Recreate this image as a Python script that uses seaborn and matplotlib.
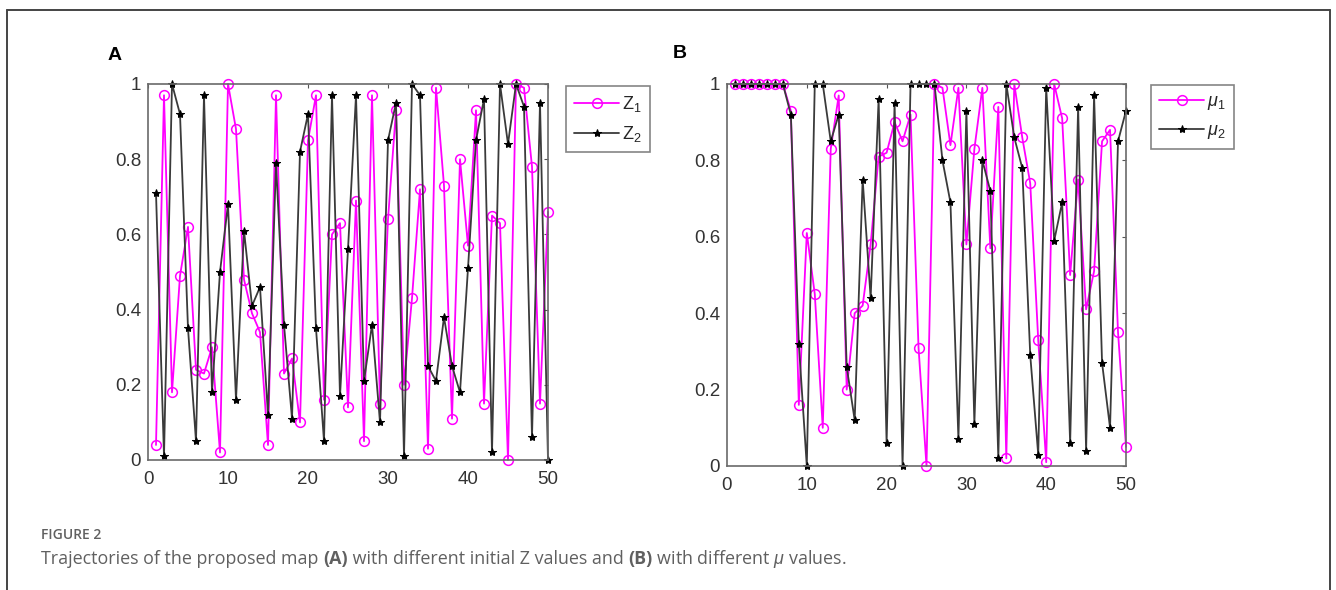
import numpy as np
import seaborn as sns
import matplotlib.pyplot as plt
from matplotlib.lines import Line2D

# iterations
steps = list(range(1, 51))

# panel A: different initial Z values
z1 = [0.04, 0.97, 0.18, 0.49, 0.62, 0.24, 0.23, 0.30, 0.02, 1.00,
      0.88, 0.48, 0.39, 0.34, 0.04, 0.97, 0.23, 0.27, 0.10, 0.85,
      0.97, 0.16, 0.60, 0.63, 0.14, 0.69, 0.05, 0.97, 0.15, 0.64,
      0.93, 0.20, 0.43, 0.72, 0.03, 0.99, 0.73, 0.11, 0.80, 0.57,
      0.93, 0.15, 0.65, 0.63, 0.00, 1.00, 0.99, 0.78, 0.15, 0.66]
z2 = [0.71, 0.01, 1.00, 0.92, 0.35, 0.05, 0.97, 0.18, 0.50, 0.68,
      0.16, 0.61, 0.41, 0.46, 0.12, 0.79, 0.36, 0.11, 0.82, 0.92,
      0.35, 0.05, 0.97, 0.17, 0.56, 0.97, 0.21, 0.36, 0.10, 0.85,
      0.95, 0.01, 1.00, 0.97, 0.25, 0.21, 0.38, 0.25, 0.18, 0.51,
      0.85, 0.96, 0.02, 1.00, 0.84, 1.00, 0.94, 0.06, 0.95, 0.00]

# panel B: different mu values
mu1 = [1.00, 1.00, 1.00, 1.00, 1.00, 1.00, 1.00, 0.93, 0.16, 0.61,
       0.45, 0.10, 0.83, 0.97, 0.20, 0.40, 0.42, 0.58, 0.81, 0.82,
       0.90, 0.85, 0.92, 0.31, 0.00, 1.00, 0.99, 0.84, 0.99, 0.58,
       0.83, 0.99, 0.57, 0.94, 0.02, 1.00, 0.86, 0.74, 0.33, 0.01,
       1.00, 0.91, 0.50, 0.75, 0.41, 0.51, 0.85, 0.88, 0.35, 0.05]
mu2 = [1.00, 1.00, 1.00, 1.00, 1.00, 1.00, 1.00, 0.92, 0.32, 0.00,
       1.00, 1.00, 0.85, 0.92, 0.26, 0.12, 0.75, 0.44, 0.96, 0.06,
       0.95, 0.00, 1.00, 1.00, 1.00, 1.00, 0.80, 0.69, 0.07, 0.93,
       0.11, 0.80, 0.72, 0.02, 1.00, 0.86, 0.78, 0.29, 0.03, 0.99,
       0.59, 0.69, 0.06, 0.94, 0.04, 0.97, 0.27, 0.10, 0.85, 0.93]

x_ticks = [0, 10, 20, 30, 40, 50]
y_ticks = [0, 0.2, 0.4, 0.6, 0.8, 1]
y_tick_labels = ["0", "0.2", "0.4", "0.6", "0.8", "1"]

panels = [
    ("A", z1, z2, ["Z$_1$", "Z$_2$"]),
    ("B", mu1, mu2, [r"$\mu_1$", r"$\mu_2$"]),
]

sns.set_style("white")
plt.rcParams["font.family"] = ["Liberation Sans", "DejaVu Sans"]
plt.rcParams["mathtext.fontset"] = "custom"
plt.rcParams["mathtext.rm"] = "Liberation Sans"
plt.rcParams["mathtext.it"] = "Liberation Sans:italic"

W, H = 1336, 590
fig = plt.figure(figsize=(W / 100, H / 100), dpi=100)

# pixel boxes: left, top, right, bottom
ax_boxes = [(148, 84, 548, 460), (727, 84, 1126, 466)]
legend_pos = [(566, 86), (1151, 85)]
letter_pos = [(108, 55), (673, 53)]

magenta = "#ff00ff"
dark = "#3a3a3a"

for (letter, s1, s2, labels), box, lpos, tpos in zip(panels, ax_boxes, legend_pos, letter_pos):
    l, t, r, b = box
    ax = fig.add_axes([l / W, 1 - b / H, (r - l) / W, (b - t) / H])
    sns.lineplot(x=steps, y=s1, ax=ax, color=magenta, lw=1.3, marker="o",
                 markersize=7, markerfacecolor="none", markeredgecolor=magenta,
                 markeredgewidth=1.1, label=labels[0], clip_on=False)
    sns.lineplot(x=steps, y=s2, ax=ax, color=dark, lw=1.3, marker="*",
                 markersize=6, markerfacecolor="black", markeredgecolor="black",
                 label=labels[1], clip_on=False)
    ax.set_xlim(0, 50)
    ax.set_ylim(0, 1)
    ax.set_xticks(x_ticks)
    ax.set_yticks(y_ticks)
    ax.set_yticklabels(y_tick_labels)
    ax.tick_params(direction="in", length=3, width=0.8, top=True, right=True,
                   labelsize=13.5, labelcolor="#333333", color="#555555", pad=5)
    ax.tick_params(axis="x", pad=8)
    for sp in ax.spines.values():
        sp.set_color("#6a6a6a")
        sp.set_linewidth(1.2)
    ax.set_xlabel("")
    ax.set_ylabel("")
    leg = ax.legend(loc="upper left", bbox_to_anchor=(lpos[0] / W, 1 - lpos[1] / H),
                    bbox_transform=fig.transFigure, fontsize=13, fancybox=False,
                    frameon=True, handlelength=2.5, handletextpad=0.15,
                    borderpad=0.45, labelspacing=0.55, borderaxespad=0)
    leg.get_frame().set_edgecolor("#666666")
    leg.get_frame().set_linewidth(1.2)
    fig.text(tpos[0] / W, 1 - tpos[1] / H, letter, fontsize=14, fontweight="bold",
             va="center", ha="left", color="black")

# outer frame of the figure box
frame_kw = dict(color="#444444", lw=1.4, transform=fig.transFigure)
fig.add_artist(Line2D([7 / W, 7 / W], [0, 1 - 10 / H], **frame_kw))
fig.add_artist(Line2D([7 / W, 1330 / W], [1 - 10 / H, 1 - 10 / H], **frame_kw))
fig.add_artist(Line2D([1330 / W, 1330 / W], [0, 1 - 10 / H], **frame_kw))

# caption
cap_color = "#606060"
fig.text(41 / W, 1 - 535 / H, "FIGURE 2", fontsize=10, color=cap_color,
         fontweight="semibold", family=["Open Sans", "DejaVu Sans"],
         va="center", ha="left")

pieces = [
    ("Trajectories of the proposed map ", "normal"),
    ("(A)", "bold"),
    (" with different initial Z values and ", "normal"),
    ("(B)", "bold"),
    (r" with different $\mu$ values.", "normal"),
]
renderer = fig.canvas.get_renderer()
x_px = 41
for txt, weight in pieces:
    tt = fig.text(x_px / W, 1 - 559 / H, txt, fontsize=12.9, color=cap_color,
                  fontweight=weight, family=["Open Sans", "DejaVu Sans"],
                  va="center", ha="left")
    bb = tt.get_window_extent(renderer=renderer)
    x_px += bb.width

fig.savefig("out.png", dpi=100)
